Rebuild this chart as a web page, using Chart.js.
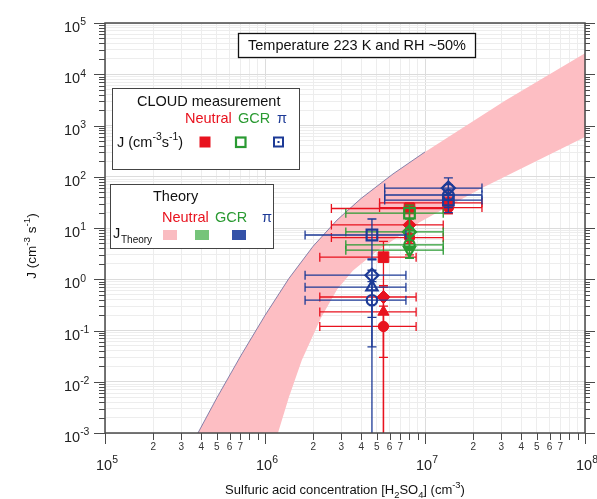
<!DOCTYPE html>
<html><head><meta charset="utf-8">
<script src="https://cdn.jsdelivr.net/npm/chart.js@4"></script>
<style>html,body{margin:0;padding:0;background:#fff;overflow:hidden}#wrap{width:597px;height:499px}</style>
</head><body><div id="wrap"><canvas id="c" width="597" height="499"></canvas></div>
<script>
// ---------- data ----------
const xMin = 1e5, xMax = 1e8, yMin = 1e-3, yMax = 1e5;
const xExponents = [5, 6, 7, 8];
const yExponents = [-3, -2, -1, 0, 1, 2, 3, 4, 5];
const xMinorLabels = ['2', '3', '4', '5', '6', '7'];

// theory band (neutral), upper and lower edges
const upperX = [3.81e5, 5.01e5, 7.08e5, 1e6, 1.41e6, 2.0e6, 2.82e6, 3.98e6, 6.31e6, 1e7, 3.16e7, 1e8];
const upperJ = [1e-3, 4.9e-3, 0.0327, 0.197, 1.035, 4.42, 14.3, 37.6, 113.5, 305, 3055, 25700];
const lowerX = [1.205e6, 1.41e6, 1.70e6, 2.24e6, 2.82e6, 3.55e6, 5.01e6, 9.31e6, 2.27e7, 1e8];
const lowerJ = [1e-3, 5.0e-3, 0.0265, 0.178, 0.63, 1.48, 3.55, 13.1, 60.3, 597];
const edgeCount = 10; // dark edge follows the upper curve up to 1e7

// CLOUD measurements: Neutral
const neutralX   = [5.5e6, 5.5e6, 5.5e6, 5.5e6, 8.0e6, 8.0e6, 8.0e6, 1.4e7, 1.4e7];
const neutralJ   = [2.7, 0.45, 0.23, 0.12, 24, 11.5, 6.5, 31, 25];
const neutralXlo = [2.2e6, 2.2e6, 2.2e6, 2.2e6, 2.6e6, 2.6e6, 2.6e6, 5.2e6, 5.2e6];
const neutralXhi = [8.8e6, 8.8e6, 8.8e6, 8.8e6, 1.3e7, 1.3e7, 1.3e7, 2.27e7, 2.27e7];
const neutralJlo = [0.7, 0.03, 5e-4, 5e-4, 12, 5, 3, 19, 19];
const neutralJhi = [5.5, 0.75, 0.45, 0.3, 31, 20, 12, 50, 40];
const neutralShape = ['rect', 'rectRot', 'triangle', 'circle', 'rect', 'rectRot', 'circle', 'rectRot', 'circle'];
const neutralRot = [0, 0, 0, 0, 0, 0, 0, 0, 0];

// GCR
const gcrX   = [8.0e6, 8.0e6, 8.0e6, 8.0e6];
const gcrJ   = [19.5, 8.4, 4.7, 3.7];
const gcrXlo = [3.2e6, 3.2e6, 3.2e6, 3.2e6];
const gcrXhi = [1.3e7, 1.3e7, 1.3e7, 1.3e7];
const gcrJlo = [10, 4, 2.6, 2.6];
const gcrJhi = [28, 15, 9, 7];
const gcrShape = ['rect', 'rectRot', 'circle', 'triangle'];
const gcrRot = [0, 0, 0, 180];

// pi beam
const piX   = [4.66e6, 4.66e6, 4.66e6, 4.66e6, 1.4e7, 1.4e7, 1.4e7];
const piJ   = [7.3, 1.2, 0.7, 0.39, 60, 44, 35];
const piXlo = [1.78e6, 1.78e6, 1.78e6, 1.78e6, 5.6e6, 5.6e6, 5.6e6];
const piXhi = [7.6e6, 7.6e6, 7.6e6, 7.6e6, 2.27e7, 2.27e7, 2.27e7];
const piJlo = [2.4, 0.18, 0.048, 5e-4, 35, 25, 20];
const piJhi = [15, 2.5, 1.5, 0.9, 95, 70, 55];
const piShape = ['rect', 'rectRot', 'triangle', 'circle', 'rectRot', 'circle', 'rect'];
const piRot = [0, 0, 0, 0, 0, 0, 0];

// ---------- styles ----------
const RED = '#e8121e', GREEN = '#2a9a32', BLUE = '#1d3a96';
const PINK = 'rgb(253,190,195)';
const FONT = '"Liberation Sans", Arial, Helvetica, sans-serif';

function pts(xs, ys) { return xs.map((x, i) => ({ x: x, y: ys[i] })); }
function radii(shapes) { return shapes.map(s => s === 'rect' ? 7.5 : s === 'rectRot' ? 6.5 : s === 'triangle' ? 6.5 : 5.2); }
function decadeTicks(e0, e1) {
  const out = [];
  for (let e = e0; e < e1; e++) for (let m = 1; m <= 9; m++) out.push({ value: m * Math.pow(10, e), major: m === 1 });
  out.push({ value: Math.pow(10, e1), major: true });
  return out;
}

const bandPts = pts(upperX, upperJ).concat(pts(lowerX, lowerJ).reverse());
const edgePts = pts(upperX.slice(0, edgeCount), upperJ.slice(0, edgeCount));

function drawRich(ctx, x, y, parts, size, align) {
  let w = 0;
  const widths = parts.map(p => {
    const fs = p.s ? size * 0.72 : size;
    ctx.font = fs + 'px ' + FONT;
    const m = ctx.measureText(p.t).width;
    w += m; return m;
  });
  let cx = align === 'center' ? x - w / 2 : align === 'right' ? x - w : x;
  ctx.textAlign = 'left'; ctx.textBaseline = 'alphabetic';
  parts.forEach((p, i) => {
    const fs = p.s ? size * 0.72 : size;
    ctx.font = fs + 'px ' + FONT;
    ctx.fillStyle = p.c || '#111';
    const dy = p.s === 'sup' ? -size * 0.45 : p.s === 'sub' ? size * 0.3 : 0;
    ctx.fillText(p.t, cx, y + dy);
    cx += widths[i];
  });
  return w;
}

const errPlugin = {
  id: 'errbars',
  beforeDatasetDraw(chart, args) {
    const ds = chart.data.datasets[args.index];
    if (!ds.err) return;
    const ctx = chart.ctx, xs = chart.scales.x, ys = chart.scales.y, a = chart.chartArea;
    ctx.save();
    ctx.beginPath(); ctx.rect(a.left, a.top, a.right - a.left, a.bottom - a.top); ctx.clip();
    ctx.strokeStyle = ds.borderColor; ctx.lineWidth = 1.3;
    const e = ds.err, cap = 4.5;
    ds.data.forEach((p, i) => {
      const px = xs.getPixelForValue(p.x), py = ys.getPixelForValue(p.y);
      const x0 = xs.getPixelForValue(e.xlo[i]), x1 = xs.getPixelForValue(e.xhi[i]);
      const y0 = ys.getPixelForValue(e.jlo[i]), y1 = ys.getPixelForValue(e.jhi[i]);
      ctx.beginPath();
      ctx.moveTo(x0, py); ctx.lineTo(x1, py);
      ctx.moveTo(x0, py - cap); ctx.lineTo(x0, py + cap);
      ctx.moveTo(x1, py - cap); ctx.lineTo(x1, py + cap);
      ctx.moveTo(px, y0); ctx.lineTo(px, y1);
      ctx.moveTo(px - cap, y0); ctx.lineTo(px + cap, y0);
      ctx.moveTo(px - cap, y1); ctx.lineTo(px + cap, y1);
      ctx.stroke();
    });
    ctx.restore();
  }
};

const decoPlugin = {
  id: 'deco',
  afterDraw(chart) {
    const ctx = chart.ctx, a = chart.chartArea, xs = chart.scales.x, ys = chart.scales.y;
    ctx.save();
    // frame
    ctx.strokeStyle = '#4a4a4a'; ctx.lineWidth = 1.5;
    ctx.strokeRect(a.left, a.top, a.right - a.left, a.bottom - a.top);
    // ticks
    ctx.lineWidth = 1;
    ctx.beginPath();
    xs.ticks.forEach(t => {
      const px = Math.round(xs.getPixelForValue(t.value)) + 0.5;
      const len = t.major ? 11 : 7;
      ctx.moveTo(px, a.bottom); ctx.lineTo(px, a.bottom + len);
    });
    ys.ticks.forEach(t => {
      const py = Math.round(ys.getPixelForValue(t.value)) + 0.5;
      const len = t.major ? 11 : 6;
      ctx.moveTo(a.left - len, py); ctx.lineTo(a.left, py);
      ctx.moveTo(a.right, py); ctx.lineTo(a.right + len - 1, py);
    });
    ctx.stroke();
    // x minor labels
    ctx.fillStyle = '#333'; ctx.font = '10px ' + FONT; ctx.textAlign = 'center'; ctx.textBaseline = 'alphabetic';
    for (let e = 5; e < 8; e++) {
      xMinorLabels.forEach(l => {
        const px = xs.getPixelForValue(parseFloat(l) * Math.pow(10, e));
        ctx.fillText(l, px, a.bottom + 17);
      });
    }
    // x major labels
    xExponents.forEach(e => {
      const px = xs.getPixelForValue(Math.pow(10, e));
      drawRich(ctx, px + 2, a.bottom + 37, [{ t: '10', c: '#222' }, { t: String(e), s: 'sup', c: '#222' }], 14.5, 'center');
    });
    // y major labels
    yExponents.forEach(e => {
      const py = ys.getPixelForValue(Math.pow(10, e));
      drawRich(ctx, 64, py + 9, [{ t: '10', c: '#222' }, { t: String(e), s: 'sup', c: '#222' }], 14.5, 'left');
    });
    // axis titles
    drawRich(ctx, (a.left + a.right) / 2, 494, [
      { t: 'Sulfuric acid concentration [H' }, { t: '2', s: 'sub' }, { t: 'SO' }, { t: '4', s: 'sub' },
      { t: '] (cm' }, { t: '-3', s: 'sup' }, { t: ')' }], 13, 'center');
    ctx.save();
    ctx.translate(36, 246); ctx.rotate(-Math.PI / 2);
    drawRich(ctx, 0, 0, [{ t: 'J (cm' }, { t: '-3', s: 'sup' }, { t: ' s' }, { t: '-1', s: 'sup' }, { t: ')' }], 13.5, 'center');
    ctx.restore();

    // box 1
    ctx.fillStyle = '#fff'; ctx.strokeStyle = '#111'; ctx.lineWidth = 1.3;
    ctx.fillRect(238, 33, 237, 24); ctx.strokeRect(238.5, 33.5, 237, 24);
    drawRich(ctx, 357, 50, [{ t: 'Temperature 223 K and RH ~50%' }], 14.5, 'center');

    // box 2 : CLOUD measurement
    ctx.fillStyle = '#fff'; ctx.strokeStyle = '#444'; ctx.lineWidth = 1;
    ctx.fillRect(112, 88, 187, 81); ctx.strokeRect(112.5, 88.5, 187, 81);
    drawRich(ctx, 137, 106, [{ t: 'CLOUD measurement' }], 14.5, 'left');
    drawRich(ctx, 185, 123, [{ t: 'Neutral', c: RED }], 14.5, 'left');
    drawRich(ctx, 238, 123, [{ t: 'GCR', c: GREEN }], 14.5, 'left');
    drawRich(ctx, 277, 123, [{ t: 'π', c: BLUE }], 14.5, 'left');
    drawRich(ctx, 117, 147, [{ t: 'J (cm' }, { t: '-3', s: 'sup' }, { t: 's' }, { t: '-1', s: 'sup' }, { t: ')' }], 14.5, 'left');
    ctx.fillStyle = RED; ctx.fillRect(199.5, 136.5, 11, 11);
    ctx.strokeStyle = GREEN; ctx.lineWidth = 2.2; ctx.strokeRect(236, 137.5, 9.5, 9.5);
    ctx.strokeStyle = BLUE; ctx.lineWidth = 2; ctx.strokeRect(274, 137.5, 9, 9);
    ctx.fillStyle = BLUE; ctx.fillRect(277.5, 141, 2, 2);

    // box 3 : Theory
    ctx.fillStyle = '#fff'; ctx.strokeStyle = '#444'; ctx.lineWidth = 1;
    ctx.fillRect(110, 184, 163, 64); ctx.strokeRect(110.5, 184.5, 163, 64);
    drawRich(ctx, 153, 201, [{ t: 'Theory' }], 14.5, 'left');
    drawRich(ctx, 162, 222, [{ t: 'Neutral', c: RED }], 14.5, 'left');
    drawRich(ctx, 215, 222, [{ t: 'GCR', c: GREEN }], 14.5, 'left');
    drawRich(ctx, 262, 222, [{ t: 'π', c: BLUE }], 14.5, 'left');
    drawRich(ctx, 113, 238, [{ t: 'J' }], 14.5, 'left');
    drawRich(ctx, 121, 243, [{ t: 'Theory' }], 10, 'left');
    ctx.fillStyle = 'rgb(250,188,193)'; ctx.fillRect(163, 230, 14, 10);
    ctx.fillStyle = 'rgb(118,196,122)'; ctx.fillRect(195, 230, 14, 10);
    ctx.fillStyle = 'rgb(52,82,168)'; ctx.fillRect(232, 230, 14, 10);
    ctx.restore();
  }
};

const gridColor = c => (c.tick && c.tick.major) ? '#dcdcdc' : '#ededed';

new Chart(document.getElementById('c'), {
  type: 'scatter',
  data: {
    datasets: [
      { label: 'theory band', data: bandPts, showLine: true, fill: 'shape', backgroundColor: PINK,
        borderColor: 'rgba(0,0,0,0)', borderWidth: 0, pointRadius: 0, tension: 0, order: 10 },
      { label: 'theory edge', data: edgePts, showLine: true, fill: false, borderColor: 'rgba(95,95,150,0.75)',
        borderWidth: 1, pointRadius: 0, tension: 0, order: 9 },
      { label: 'Neutral', data: pts(neutralX, neutralJ), pointStyle: neutralShape, pointRotation: neutralRot,
        pointRadius: radii(neutralShape), backgroundColor: RED, borderColor: RED, pointBorderWidth: 1, order: 3,
        err: { xlo: neutralXlo, xhi: neutralXhi, jlo: neutralJlo, jhi: neutralJhi } },
      { label: 'GCR', data: pts(gcrX, gcrJ), pointStyle: gcrShape, pointRotation: gcrRot,
        pointRadius: radii(gcrShape), backgroundColor: 'rgba(255,255,255,0)', borderColor: GREEN, pointBorderWidth: 2.2, order: 2,
        err: { xlo: gcrXlo, xhi: gcrXhi, jlo: gcrJlo, jhi: gcrJhi } },
      { label: 'pi', data: pts(piX, piJ), pointStyle: piShape, pointRotation: piRot,
        pointRadius: radii(piShape), backgroundColor: 'rgba(255,255,255,0)', borderColor: BLUE, pointBorderWidth: 2.2, order: 1,
        err: { xlo: piXlo, xhi: piXhi, jlo: piJlo, jhi: piJhi } }
    ]
  },
  options: {
    responsive: false, animation: false, devicePixelRatio: 1,
    layout: { padding: { left: 105, right: 12, top: 23, bottom: 66 } },
    plugins: { legend: { display: false }, tooltip: { enabled: false } },
    scales: {
      x: { type: 'logarithmic', min: xMin, max: xMax,
        afterBuildTicks: s => { s.ticks = decadeTicks(5, 8); },
        ticks: { display: false }, grid: { drawTicks: false, color: gridColor, lineWidth: 1 }, border: { display: false } },
      y: { type: 'logarithmic', min: yMin, max: yMax,
        afterBuildTicks: s => { s.ticks = decadeTicks(-3, 5); },
        ticks: { display: false }, grid: { drawTicks: false, color: gridColor, lineWidth: 1 }, border: { display: false } }
    }
  },
  plugins: [errPlugin, decoPlugin]
});
</script>
</body></html>
